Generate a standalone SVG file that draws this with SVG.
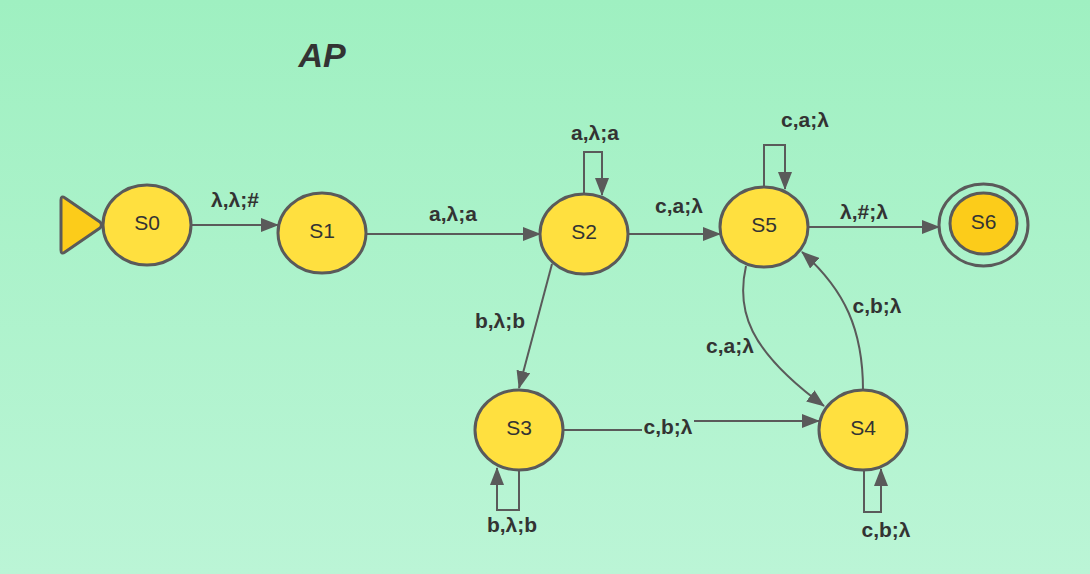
<svg xmlns="http://www.w3.org/2000/svg" width="1090" height="574" viewBox="0 0 1090 574">
<defs>
<linearGradient id="bg" x1="0" y1="0" x2="0" y2="1">
<stop offset="0" stop-color="#9ff0c1"/>
<stop offset="1" stop-color="#bbf5d6"/>
</linearGradient>
<marker id="arrL" markerWidth="18" markerHeight="14" refX="17" refY="7" orient="auto" markerUnits="userSpaceOnUse" viewBox="0 0 18 14">
<path d="M0,0 L18,7 L0,14 Z" fill="#5a5a5a"/>
</marker>
</defs>
<style>
.node{fill:#ffe03f;stroke:#5a5a5a;stroke-width:3}
.final{fill:#fccc1a;stroke:#5a5a5a;stroke-width:3}
.ring{fill:none;stroke:#5a5a5a;stroke-width:3}
.nt{font-family:"Liberation Sans",Arial,sans-serif;font-size:21px;fill:#333;text-anchor:middle}
.lbl{font-family:"Liberation Sans",Arial,sans-serif;font-size:21px;font-weight:bold;fill:#333;text-anchor:middle}
.edge{fill:none;stroke:#5a5a5a;stroke-width:2;marker-end:url(#arrL)}
</style>
<rect width="1090" height="574" fill="url(#bg)"/>
<text x="322" y="67" font-family="'Liberation Sans',Arial,sans-serif" font-size="34" font-weight="bold" font-style="italic" fill="#333" text-anchor="middle">AP</text>

<g id="connectors">
<path class="edge" d="M191,225 H278"/>
<path class="edge" d="M366,234 H540"/>
<path class="edge" d="M628,234 H720"/>
<path class="edge" d="M808,227 H939"/>
<path class="edge" d="M552,264 L519,388"/>
<path class="edge" d="M563,430 H642 M694,421 H819"/>
<path class="edge" d="M746,266 C736,310 748,350 824,406"/>
<path class="edge" d="M863,390 C863,330 845,290 802,252"/>
<path class="edge" d="M584,194 V152 H602 V195"/>
<path class="edge" d="M764,187 V145 H785 V189"/>
<path class="edge" d="M519,470 V510 H497 V468"/>
<path class="edge" d="M864,470 V512 H881 V469"/>
<text class="lbl" x="235" y="207">λ,λ;#</text>
<text class="lbl" x="453" y="221">a,λ;a</text>
<text class="lbl" x="679" y="213">c,a;λ</text>
<text class="lbl" x="864" y="219">λ,#;λ</text>
<text class="lbl" x="500" y="328">b,λ;b</text>
<text class="lbl" x="668" y="434">c,b;λ</text>
<text class="lbl" x="730" y="353">c,a;λ</text>
<text class="lbl" x="877" y="313">c,b;λ</text>
<text class="lbl" x="595" y="140">a,λ;a</text>
<text class="lbl" x="805" y="127">c,a;λ</text>
<text class="lbl" x="512" y="532">b,λ;b</text>
<text class="lbl" x="886" y="537">c,b;λ</text>
</g>

<g id="start">
<path d="M61,200 Q61,195 65,198 L100,222 Q103,225 100,228 L65,252 Q61,255 61,250 Z" fill="#fccc1a" stroke="#5a5a5a" stroke-width="3" stroke-linejoin="round"/>
</g>
<g id="S0"><ellipse class="node" cx="147" cy="225" rx="44" ry="40"/><text class="nt" x="147" y="230">S0</text></g>
<g id="S1"><ellipse class="node" cx="322" cy="233" rx="44" ry="40"/><text class="nt" x="322" y="238">S1</text></g>
<g id="S2"><ellipse class="node" cx="584" cy="234" rx="44" ry="40"/><text class="nt" x="584" y="239">S2</text></g>
<g id="S5"><ellipse class="node" cx="764" cy="227" rx="44" ry="40"/><text class="nt" x="764" y="232">S5</text></g>
<g id="S6"><ellipse class="ring" cx="983.5" cy="225" rx="44.5" ry="41"/><ellipse class="final" cx="983.5" cy="223.5" rx="33.5" ry="30.5"/><text class="nt" x="983.5" y="229">S6</text></g>
<g id="S3"><ellipse class="node" cx="519" cy="430" rx="44" ry="40"/><text class="nt" x="519" y="435">S3</text></g>
<g id="S4"><ellipse class="node" cx="863" cy="430" rx="44" ry="40"/><text class="nt" x="863" y="435">S4</text></g>
</svg>
